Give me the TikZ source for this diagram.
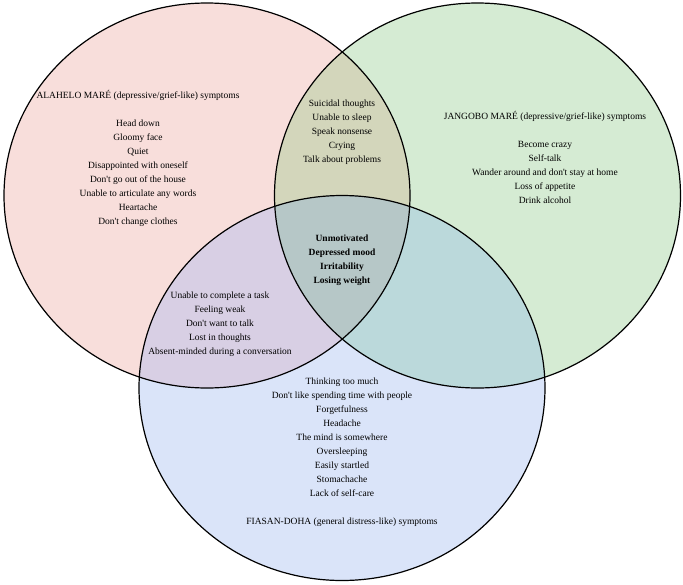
\documentclass[tikz,border=0pt]{standalone}
\usepackage{fontspec}
\setmainfont{Liberation Serif}[Ligatures=TeXOff]
\begin{document}
\begin{tikzpicture}[x=1pt,y=-1pt,
  txt/.style={align=center,inner sep=0pt,font=\fontsize{9.5}{14}\selectfont},
  ring/.style={draw=black,line width=1.2pt}]
\definecolor{cR}{HTML}{F8DEDB}
\definecolor{cG}{HTML}{D5EBD3}
\definecolor{cB}{HTML}{DAE4F9}
\definecolor{cRG}{HTML}{D3D6BB}
\definecolor{cRB}{HTML}{D8CFE4}
\definecolor{cGB}{HTML}{BBD9DB}
\definecolor{cRGB}{HTML}{B6C7C7}
\useasboundingbox (0,0) rectangle (683,584);
\def\red{(207,195.5) ellipse [x radius=203, y radius=192.5]}
\def\green{(477.5,195.5) ellipse [x radius=203, y radius=192.5]}
\def\blue{(342,388) ellipse [x radius=203, y radius=192.5]}
% fills
\fill[cR] \red;
\fill[cG] \green;
\fill[cB] \blue;
\begin{scope}\clip \red; \fill[cRG] \green; \end{scope}
\begin{scope}\clip \red; \fill[cRB] \blue; \end{scope}
\begin{scope}\clip \green; \fill[cGB] \blue; \end{scope}
\begin{scope}\clip \red; \clip \green; \fill[cRGB] \blue; \end{scope}
% outlines
\draw[ring] \red;
\draw[ring] \green;
\draw[ring] \blue;
% texts
\node[txt] (redtxt) at (138,158) {ALAHELO MARÉ (depressive/grief-like) symptoms\\[14pt]
Head down\\ Gloomy face\\ Quiet\\ Disappointed with oneself\\ Don't go out of the house\\
Unable to articulate any words\\ Heartache\\ Don't change clothes};
\node[txt] (greentxt) at (545,157.7) {JANGOBO MARÉ (depressive/grief-like) symptoms\\[14pt]
Become crazy\\ Self-talk\\ Wander around and don't stay at home\\ Loss of appetite\\ Drink alcohol};
\node[txt] (rgtxt) at (342,132) {Suicidal thoughts\\ Unable to sleep\\ Speak nonsense\\ Crying\\ Talk about problems};
\node[txt,font=\fontsize{9.5}{14}\selectfont\bfseries] (alltxt) at (342,260.3) {Unmotivated\\ Depressed mood\\ Irritability\\ Losing weight};
\node[txt] (rbtxt) at (220,324) {Unable to complete a task\\ Feeling weak\\ Don't want to talk\\ Lost in thoughts\\ Absent-minded during a conversation};
\node[txt] (bluetxt) at (342,452.5) {Thinking too much\\ Don't like spending time with people\\ Forgetfulness\\ Headache\\
The mind is somewhere\\ Oversleeping\\ Easily startled\\ Stomachache\\ Lack of self-care\\[14pt]
FIASAN-DOHA (general distress-like) symptoms};
\end{tikzpicture}
\end{document}
